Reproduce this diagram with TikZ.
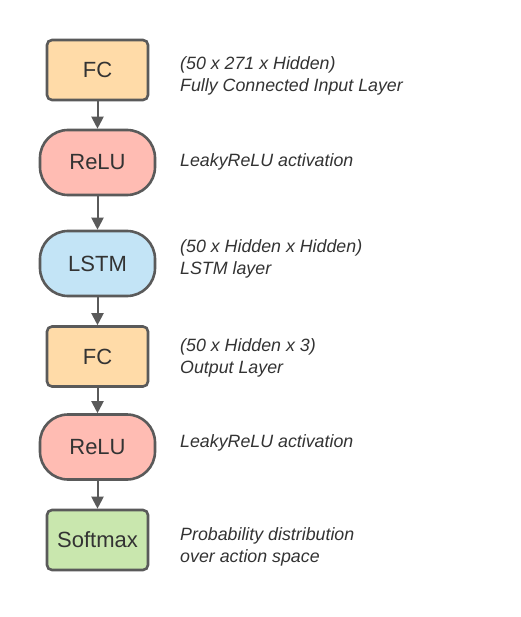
\documentclass[tikz,border=0pt]{standalone}
\usepackage{fontspec}
\setmainfont{Liberation Sans}
\usetikzlibrary{arrows.meta}
\definecolor{edge}{HTML}{5A5A5A}
\definecolor{txt}{HTML}{333333}
\definecolor{fcfill}{HTML}{FFDBA8}
\definecolor{relufill}{HTML}{FFBCB3}
\definecolor{lstmfill}{HTML}{C3E4F6}
\definecolor{smfill}{HTML}{C9E7AE}
\tikzset{
  box/.style={draw=edge, line width=2.6pt, rounded corners=5pt, minimum width=101pt, minimum height=60pt, inner sep=0pt, text=txt, font=\fontsize{22}{26}\selectfont},
  pill/.style={draw=edge, line width=2.6pt, rounded corners=28pt, minimum width=115pt, minimum height=65pt, inner sep=0pt, text=txt, font=\fontsize{22}{26}\selectfont},
  note/.style={anchor=west, align=left, text=txt, inner sep=0pt, font=\fontsize{17.8}{22}\selectfont\itshape},
  conn/.style={draw=edge, line width=2pt, -{Triangle[length=12pt,width=12pt]}},
}
\begin{document}
\begin{tikzpicture}[x=1pt,y=-1pt]
\useasboundingbox[fill=white] (0,0) rectangle (520,617);
\node[box, fill=fcfill] (fc1) at (97.5,70) {FC};
\node[pill, fill=relufill] (relu1) at (97.5,162.5) {ReLU};
\node[pill, fill=lstmfill] (lstm) at (97.5,263.5) {LSTM};
\node[box, fill=fcfill] (fc2) at (97.5,356.5) {FC};
\node[pill, fill=relufill] (relu2) at (97.5,447) {ReLU};
\node[box, fill=smfill] (sm) at (97.5,540) {Softmax};
\draw[conn] (fc1) -- (relu1);
\draw[conn] (relu1) -- (lstm);
\draw[conn] (lstm) -- (fc2);
\draw[conn] (fc2) -- (relu2);
\draw[conn] (relu2) -- (sm);
\node[note] (n1) at (180,76) {(50 x 271 x Hidden)\\Fully Connected Input Layer};
\node[note] (n2) at (180,162) {LeakyReLU activation};
\node[note] (n3) at (180,259) {(50 x Hidden x Hidden)\\LSTM layer};
\node[note] (n4) at (180,357.5) {(50 x Hidden x 3)\\Output Layer};
\node[note] (n5) at (180,443) {LeakyReLU activation};
\node[note] (n6) at (180,546.5) {Probability distribution\\over action space};
\end{tikzpicture}
\end{document}
